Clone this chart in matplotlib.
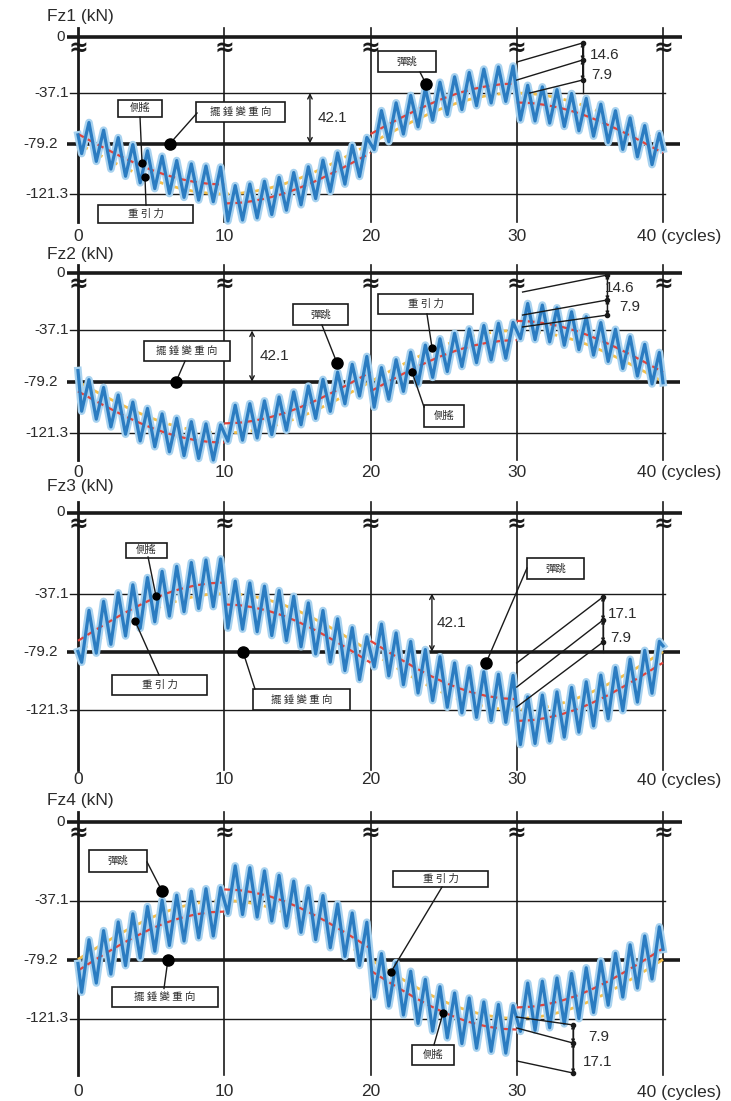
import numpy as np
import matplotlib.pyplot as plt
from matplotlib.patches import Rectangle

plt.rcParams['font.family'] = ['Liberation Sans', 'DejaVu Sans']
CJK = ['Noto Sans CJK TC', 'DejaVu Sans']

# ---- data (kN) ----
cycles = np.arange(41)
blue_x = np.concatenate([[0], np.arange(0.25, 40, 0.5), [40]])

# gravity component (yellow), falls first (Fz1, Fz2) / rises first (Fz3, Fz4)
gravity_down = [-79.2, -85.8, -92.2, -98.3, -104.0, -109.0, -113.3, -116.7, -119.2, -120.8,
                -121.3, -120.8, -119.2, -116.7, -113.3, -109.0, -104.0, -98.3, -92.2, -85.8,
                -79.2, -72.6, -66.2, -60.1, -54.5, -49.4, -45.1, -41.7, -39.2, -37.6,
                -37.1, -37.6, -39.2, -41.7, -45.1, -49.4, -54.5, -60.1, -66.2, -72.6, -79.2]
gravity_up = [-79.2, -72.6, -66.2, -60.1, -54.5, -49.4, -45.1, -41.7, -39.2, -37.6,
              -37.1, -37.6, -39.2, -41.7, -45.1, -49.4, -54.5, -60.1, -66.2, -72.6,
              -79.2, -85.8, -92.2, -98.3, -104.0, -109.0, -113.3, -116.7, -119.2, -120.8,
              -121.3, -120.8, -119.2, -116.7, -113.3, -109.0, -104.0, -98.3, -92.2, -85.8, -79.2]

# gravity + roll (red), one list per 10-cycle block
red_fz1 = [[-71.3, -77.9, -84.3, -90.4, -96.1, -101.1, -105.4, -108.8, -111.3, -112.9, -113.4],
           [-129.2, -128.7, -127.1, -124.6, -121.2, -116.9, -111.9, -106.2, -100.1, -93.7, -87.1],
           [-71.3, -64.7, -58.3, -52.2, -46.6, -41.5, -37.2, -33.8, -31.3, -29.7, -29.2],
           [-45.0, -45.5, -47.1, -49.6, -53.0, -57.3, -62.4, -68.0, -74.1, -80.5, -87.1]]
red_fz2 = [[-87.1, -93.7, -100.1, -106.2, -111.9, -116.9, -121.2, -124.6, -127.1, -128.7, -129.2],
           [-113.4, -112.9, -111.3, -108.8, -105.4, -101.1, -96.1, -90.4, -84.3, -77.9, -71.3],
           [-87.1, -80.5, -74.1, -68.0, -62.4, -57.3, -53.0, -49.6, -47.1, -45.5, -45.0],
           [-29.2, -29.7, -31.3, -33.8, -37.2, -41.5, -46.6, -52.2, -58.3, -64.7, -71.3]]
red_fz3 = [[-71.3, -64.7, -58.3, -52.2, -46.6, -41.5, -37.2, -33.8, -31.3, -29.7, -29.2],
           [-45.0, -45.5, -47.1, -49.6, -53.0, -57.3, -62.4, -68.0, -74.1, -80.5, -87.1],
           [-71.3, -77.9, -84.3, -90.4, -96.1, -101.1, -105.4, -108.8, -111.3, -112.9, -113.4],
           [-129.2, -128.7, -127.1, -124.6, -121.2, -116.9, -111.9, -106.2, -100.1, -93.7, -87.1]]
red_fz4 = [[-87.1, -80.5, -74.1, -68.0, -62.4, -57.3, -53.0, -49.6, -47.1, -45.5, -45.0],
           [-29.2, -29.7, -31.3, -33.8, -37.2, -41.5, -46.6, -52.2, -58.3, -64.7, -71.3],
           [-87.1, -93.7, -100.1, -106.2, -111.9, -116.9, -121.2, -124.6, -127.1, -128.7, -129.2],
           [-113.4, -112.9, -111.3, -108.8, -105.4, -101.1, -96.1, -90.4, -84.3, -77.9, -71.3]]

# gravity + roll + bounce (blue): start, trough/peak per cycle, end
blue_fz1 = [-72,
            -87.6, -61.7, -94.1, -68.1, -100.5, -74.3, -106.5, -80.1, -112.0, -85.3,
            -116.8, -89.8, -120.9, -93.4, -124.1, -96.2, -126.4, -98.0, -127.7, -98.8,
            -143.8, -114.3, -143.0, -113.0, -141.2, -110.7, -138.4, -107.5, -134.8, -103.4,
            -130.3, -98.6, -125.1, -93.1, -119.3, -87.1, -113.1, -80.7, -106.7, -74.2,
            -84.3, -51.8, -77.7, -45.3, -71.3, -39.1, -65.3, -33.3, -59.8, -28.1,
            -55.0, -23.6, -50.9, -20.0, -47.7, -17.2, -45.4, -15.4, -44.1, -14.6,
            -59.6, -30.7, -60.4, -32.0, -62.2, -34.3, -65.0, -37.5, -68.6, -41.6,
            -73.1, -46.4, -78.3, -51.9, -84.1, -57.9, -90.3, -64.3, -96.8, -70.9,
            -84]
blue_fz2 = [-70,
            -103.4, -77.5, -109.9, -83.9, -116.3, -90.1, -122.3, -95.9, -127.8, -101.1,
            -132.6, -105.6, -136.7, -109.2, -139.9, -112.0, -142.2, -113.8, -143.5, -114.6,
            -128.0, -98.5, -127.2, -97.2, -125.4, -94.9, -122.6, -91.7, -119.0, -87.6,
            -114.5, -82.8, -109.3, -77.3, -103.5, -71.3, -97.3, -64.9, -90.9, -58.4,
            -100.1, -67.6, -93.5, -61.1, -87.1, -54.9, -81.1, -49.1, -75.6, -43.9,
            -70.8, -39.4, -66.7, -35.8, -63.5, -33.0, -61.2, -31.2, -59.9, -30.4,
            -43.8, -14.9, -44.6, -16.2, -46.4, -18.5, -49.2, -21.7, -52.8, -25.8,
            -57.3, -30.6, -62.5, -36.1, -68.3, -42.2, -74.5, -48.5, -81.0, -55.1,
            -80]
blue_fz3 = [-79,
            -86.8, -49.3, -80.2, -42.8, -73.8, -36.6, -67.8, -30.8, -62.3, -25.6,
            -57.5, -21.1, -53.4, -17.5, -50.2, -14.7, -47.9, -12.9, -46.6, -12.1,
            -62.1, -28.2, -62.9, -29.5, -64.7, -31.8, -67.5, -35.0, -71.1, -39.1,
            -75.6, -43.9, -80.8, -49.4, -86.6, -55.4, -92.8, -61.8, -99.3, -68.4,
            -90.1, -59.2, -96.6, -65.6, -103.0, -71.8, -109.0, -77.6, -114.5, -82.8,
            -119.3, -87.3, -123.4, -90.9, -126.6, -93.7, -128.9, -95.5, -130.2, -96.3,
            -146.3, -111.8, -145.5, -110.5, -143.7, -108.2, -140.9, -105.0, -137.3, -100.9,
            -132.8, -96.1, -127.6, -90.6, -121.8, -84.6, -115.6, -78.2, -109.2, -71.7,
            -75]
blue_fz4 = [-82,
            -102.6, -65.1, -96.0, -58.6, -89.6, -52.4, -83.6, -46.6, -78.1, -41.4,
            -73.3, -36.9, -69.2, -33.3, -66.0, -30.5, -63.7, -28.7, -62.4, -27.9,
            -46.3, -12.4, -47.1, -13.7, -48.9, -16.0, -51.7, -19.2, -55.3, -23.3,
            -59.8, -28.1, -65.0, -33.6, -70.8, -39.6, -77.0, -46.0, -83.5, -52.6,
            -105.9, -75.0, -112.4, -81.4, -118.8, -87.6, -124.8, -93.4, -130.3, -98.6,
            -135.1, -103.1, -139.2, -106.7, -142.5, -109.5, -144.7, -111.3, -146.0, -112.1,
            -130.5, -96.0, -129.7, -94.7, -127.9, -92.4, -125.1, -89.2, -121.4, -85.1,
            -117.0, -80.3, -111.8, -74.8, -106.0, -68.7, -99.6, -62.4, -93.1, -55.9,
            -72]

level_values = [-37.1, -79.2, -121.3]
level_labels = ['-37.1', '-79.2', '-121.3']
cycle_ticks = [0, 10, 20, 30, 40]

# ---- layout (pixels) ----
W, H = 731, 1101
X0, PX = 78, 14.625          # pixel of cycle 0, pixels per cycle
INK = '#1a1a1a'
TXT = '#2b2b2b'

panels = [
    dict(name='Fz1 (kN)', band=(0, 245), p0=37, p37=93, p121=194, top_line=28, bot_line=222, xlab=236, title=17,
         gravity=gravity_down, red=red_fz1, blue=blue_fz1,
         boxes=[('側搖', 4.24, -50.0, 44, 17), ('重 引 力', 4.62, -138.0, 95, 18),
                ('擺 錘 變 重 向', 11.11, -52.9, 89, 20), ('彈跳', 22.5, -10.9, 58, 21)],
         leaders=[(4.24, -57.1, 4.38, -95.5, 5), (4.65, -130.5, 4.58, -107.1, 5),
                  (8.14, -53.8, 6.29, -79.2, 8), (23.38, -19.6, 23.8, -29.6, 8)],
         span=(15.86, 16.4),
         dim=dict(x=34.5, lines=[(30, -11.3, 4.6), (30, -26.3, -9.6), (30.9, -37.1, -26.3)],
                  bottom=-37.1, labels=[('14.6', 35.0, -5.4), ('7.9', 35.1, -22.1)])),
    dict(name='Fz2 (kN)', band=(245, 487), p0=273, p37=330.5, p121=433, top_line=265, bot_line=460, xlab=473, title=255,
         gravity=gravity_down, red=red_fz2, blue=blue_fz2,
         boxes=[('擺 錘 變 重 向', 7.45, -53.9, 86, 20), ('彈跳', 16.58, -23.9, 55, 21),
                ('重 引 力', 23.76, -15.3, 95, 20), ('側搖', 25.03, -107.4, 40, 22)],
         leaders=[(7.32, -62.2, 6.70, -79.2, 8), (16.68, -32.6, 17.71, -63.8, 8),
                  (23.86, -23.5, 24.21, -51.5, 5), (23.66, -100.0, 22.84, -71.2, 5)],
         span=(11.9, 12.4),
         dim=dict(x=36.2, lines=[(30.4, -5.5, 8.5), (30.4, -24.4, -12.0), (30.4, -34.2, -24.4)],
                  bottom=-24.4, labels=[('14.6', 36.0, -2.2), ('7.9', 37.0, -17.8)])),
    dict(name='Fz3 (kN)', band=(487, 790), p0=512.5, p37=593.5, p121=710, top_line=502, bot_line=770, xlab=780, title=486,
         gravity=gravity_up, red=red_fz3, blue=blue_fz3,
         boxes=[('側搖', 4.68, -5.7, 41, 15), ('重 引 力', 5.57, -103.2, 95, 20),
                ('擺 錘 變 重 向', 15.28, -113.7, 97, 21), ('彈跳', 32.65, -19.0, 57, 21)],
         leaders=[(4.79, -10.7, 5.33, -38.9, 5), (5.54, -96.0, 3.90, -57.0, 5),
                  (12.10, -106.1, 11.28, -79.2, 8), (30.70, -18.7, 27.90, -87.3, 8)],
         span=(24.2, 24.55),
         dim=dict(x=35.9, lines=[(30, -87.3, -39.6), (30, -104.7, -56.3), (30, -119.1, -72.2)],
                  bottom=-79.2, labels=[('17.1', 36.2, -51.9), ('7.9', 36.4, -69.3)])),
    dict(name='Fz4 (kN)', band=(790, 1101), p0=821.5, p37=900.5, p121=1018.5, top_line=812, bot_line=1075, xlab=1092, title=800,
         gravity=gravity_up, red=red_fz4, blue=blue_fz4,
         boxes=[('彈跳', 2.74, -8.9, 58, 22), ('擺 錘 變 重 向', 5.95, -106.0, 106, 20),
                ('重 引 力', 24.79, -21.8, 95, 16), ('側搖', 24.27, -147.4, 42, 20)],
         leaders=[(4.72, -9.6, 5.74, -30.3, 8), (5.88, -99.9, 6.15, -79.2, 8),
                  (24.89, -27.5, 21.40, -88.1, 5), (24.34, -140.1, 24.96, -117.4, 5)],
         span=None,
         dim=dict(x=33.85, lines=[(30, -120.2, -125.9), (30, -128.1, -138.8), (30, -151.6, -160.2)],
                  bottom=-160.2, labels=[('7.9', 34.9, -134.5), ('17.1', 34.5, -152.3)])),
]

fig = plt.figure(figsize=(W / 100, H / 100), dpi=100)

for p in panels:
    top, bottom = p['band']
    k = (p['p121'] - p['p37']) / 84.2
    def val(py):
        return -37.1 + (p['p37'] - py) / k
    def cyc(px):
        return (px - X0) / PX
    ax = fig.add_axes([0, 1 - bottom / H, 1, (bottom - top) / H])
    ax.set_xlim(cyc(0), cyc(W))
    ax.set_ylim(val(bottom), val(top))
    ax.axis('off')
    zero = val(p['p0'])

    # frame: reference levels and cycle lines
    ax.plot([cyc(67), cyc(682)], [zero, zero], color=INK, lw=2.6, solid_capstyle='butt', zorder=1)
    ax.plot([cyc(67), cyc(680)], [-79.2, -79.2], color=INK, lw=2.6, solid_capstyle='butt', zorder=1)
    for v in (-37.1, -121.3):
        ax.plot([cyc(70), cyc(665)], [v, v], color=INK, lw=1.0, zorder=1)
    for c in cycle_ticks:
        ax.plot([c, c], [val(p['top_line']), val(p['bot_line'])], color=INK,
                lw=2.0 if c == 0 else 1.2, zorder=1)
        ax.text(c, zero - 11 / k, '≈', fontsize=17, fontweight='bold', color=INK,
                ha='center', va='center', zorder=1, family=['DejaVu Sans'])
        lab = '40 (cycles)' if c == 40 else str(c)
        ax.text(cyc(637) if c == 40 else c, val(p['xlab']), lab, fontsize=12.5, color=TXT,
                ha='left' if c == 40 else 'center', va='center')

    ax.text(cyc(65), zero, '0', fontsize=11, color=TXT, ha='right', va='center')
    for v, s in zip(level_values, level_labels):
        ax.text(cyc(58) if v == -79.2 else cyc(69), v, s, fontsize=11, color=TXT,
                ha='right', va='center')
    ax.text(cyc(47), val(p['title']), p['name'], fontsize=12.5, color=TXT, ha='left', va='center')

    # series
    ax.plot(cycles, p['gravity'], color='#f4bf4c', lw=2.0, ls=(0, (4, 2)), zorder=2)
    ax.plot(blue_x, p['blue'], color='#a8d2ef', lw=5.5, zorder=3)
    for i, seg in enumerate(p['red']):
        ax.plot(cycles[10 * i:10 * i + 11], seg, color='#e2443c', lw=1.6,
                ls=(0, (3, 2)), zorder=3.5)
    ax.plot(blue_x, p['blue'], color='#2b7cc1', lw=2.3, zorder=4)

    # annotation boxes and leaders
    for label, xc, yc, wpx, hpx in p['boxes']:
        w, h = wpx / PX, hpx / k
        ax.add_patch(Rectangle((xc - w / 2, yc - h / 2), w, h, facecolor='white',
                               edgecolor=INK, lw=1.2, zorder=6))
        ax.text(xc, yc, label, fontsize=7.5, family=CJK, color=TXT, ha='center', va='center', zorder=7)
    for x1, y1, x2, y2, ms in p['leaders']:
        ax.plot([x1, x2], [y1, y2], color=INK, lw=1.0, zorder=6)
        ax.plot(x2, y2, 'o', color='black', ms=ms, zorder=7)

    # 42.1 span
    if p['span']:
        xs, xt = p['span']
        ax.annotate('', xy=(xs, -37.1), xytext=(xs, -79.2), zorder=6,
                    arrowprops=dict(arrowstyle='<->', lw=1.0, color=INK, shrinkA=0, shrinkB=0,
                                    mutation_scale=8))
        ax.text(xt, -58.2, '42.1', fontsize=11, color=TXT, ha='left', va='center')

    # roll / bounce dimension
    d = p['dim']
    ends = []
    for x1, y1, y2 in d['lines']:
        ax.plot([x1, d['x']], [y1, y2], color=INK, lw=1.0, zorder=6)
        ends.append(y2)
    ax.plot([d['x'], d['x']], [max(ends), d['bottom']], color=INK, lw=1.0, zorder=6)
    for ya, yb in zip(ends[:-1], ends[1:]):
        ax.annotate('', xy=(d['x'], ya), xytext=(d['x'], yb), zorder=6,
                    arrowprops=dict(arrowstyle='<|-|>', lw=0.8, color=INK, shrinkA=0, shrinkB=0,
                                    mutation_scale=5))
    ax.plot([d['x']] * len(ends), ends, 'o', color=INK, ms=3, zorder=7)
    for s, xl, yl in d['labels']:
        ax.text(xl, yl, s, fontsize=11, color=TXT, ha='left', va='center', zorder=7)

fig.savefig('out.png', dpi=100)
